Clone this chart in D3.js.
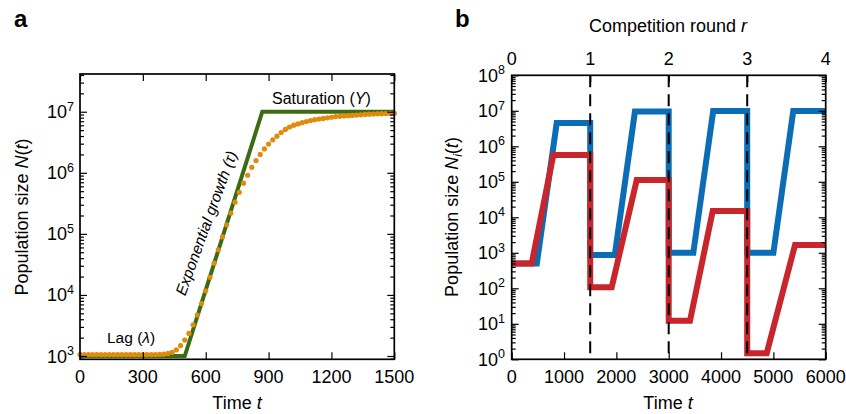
<!DOCTYPE html>
<html><head><meta charset="utf-8">
<script src="https://cdn.jsdelivr.net/npm/d3@7"></script>
<style>
body{margin:0;background:#fff}
svg{display:block}
text{font-family:"Liberation Sans",Arial,Helvetica,sans-serif;fill:#000}
</style>
</head><body>
<svg id="c" width="846" height="414"></svg>
<script>
// ---------- Panel a data ----------
const growthT = [0,20,40,60,80,100,120,140,160,180,200,220,240,260,280,300,320,340,360,
  380,400,420,440,460,480,500,520,540,560,580,600,620,640,660,680,700,720,740,760,780,800,
  820,840,860,880,900,920,940,960,980,1000,1020,1040,1060,1080,1100,1120,1140,1160,1180,1200,
  1220,1240,1260,1280,1300,1320,1340,1360,1380,1400,1420,1440,1460,1480,1500];
const growthN = [1.05e3,1.05e3,1.05e3,1.05e3,1.05e3,1.05e3,1.05e3,1.05e3,1.05e3,1.05e3,1.05e3,
  1.05e3,1.05e3,1.05e3,1.05e3,1.05e3,1.05e3,1.05e3,1.05e3,
  1.06e3,1.07e3,1.10e3,1.15e3,1.26e3,1.48e3,1.82e3,2.34e3,3.24e3,4.68e3,7.24e3,1.17e4,
  1.95e4,3.31e4,5.50e4,8.91e4,1.41e5,2.19e5,3.31e5,4.79e5,6.76e5,9.12e5,
  1.23e6,1.59e6,2.00e6,2.46e6,2.95e6,3.47e6,3.98e6,4.57e6,5.13e6,5.62e6,
  6.03e6,6.31e6,6.61e6,6.92e6,7.16e6,7.41e6,7.59e6,7.76e6,7.94e6,8.13e6,
  8.32e6,8.41e6,8.51e6,8.61e6,8.71e6,8.81e6,8.91e6,9.02e6,9.12e6,9.16e6,
  9.23e6,9.29e6,9.33e6,9.38e6,9.44e6];
const modelT = [0,500,870,1500];
const modelN = [1e3,1e3,1e7,1e7];
const xTicksA = [0,300,600,900,1200,1500];
const yExpA = [3,4,5,6,7];

// ---------- Panel b data ----------
const blueT = [0,480,860,1500,1500,1970,2355,3000,3000,3470,3850,4500,4500,5000,5380,6000];
const blueN = [500,500,4.5e6,4.5e6,870,870,9.5e6,9.5e6,1e3,1e3,9.8e6,9.8e6,1e3,1e3,9.8e6,9.8e6];
const redT = [0,382,796,1500,1500,1911,2389,3000,3000,3407,3841,4500,4500,4873,5414,6000];
const redN = [500,500,5.7e5,5.7e5,107,107,1.12e5,1.12e5,12.2,12.2,1.5e4,1.5e4,1.48,1.48,1.66e3,1.66e3];
const xTicksB = [0,1000,2000,3000,4000,5000,6000];
const roundTicks = [0,1,2,3,4];
const transferRounds = [1,2,3];
const yExpB = [0,1,2,3,4,5,6,7,8];

const svg = d3.select("#c");
const FS = 18;

function minorTicks(domain){
  const out=[];
  const lo=Math.floor(Math.log10(domain[0])), hi=Math.ceil(Math.log10(domain[1]));
  for(let e=lo;e<=hi;e++){for(let m=2;m<=9;m++){const v=m*Math.pow(10,e); if(v>=domain[0]&&v<=domain[1]) out.push(v);}}
  return out;
}

function frameAxes(g, x, y, xTicks, yMajors, yDomain, topScale, topTicks){
  const [x0,x1]=x.range(), [y0,y1]=y.range();
  const tk = sel=>sel.call(s=>s.select(".domain").remove()).selectAll("line").attr("stroke","#000").attr("stroke-width",1.2);
  g.append("g").attr("transform",`translate(0,${y0})`).call(d3.axisBottom(x).tickValues(xTicks).tickSize(-7).tickFormat("")).call(tk);
  g.append("g").attr("transform",`translate(0,${y1})`).call(d3.axisTop(topScale||x).tickValues(topTicks||xTicks).tickSize(-7).tickFormat("")).call(tk);
  const mins = minorTicks(yDomain);
  g.append("g").attr("transform",`translate(${x0},0)`).call(d3.axisLeft(y).tickValues(yMajors).tickSize(-7).tickFormat("")).call(tk);
  g.append("g").attr("transform",`translate(${x0},0)`).call(d3.axisLeft(y).tickValues(mins).tickSize(-4).tickFormat("")).call(tk);
  g.append("g").attr("transform",`translate(${x1},0)`).call(d3.axisRight(y).tickValues(yMajors).tickSize(-7).tickFormat("")).call(tk);
  g.append("g").attr("transform",`translate(${x1},0)`).call(d3.axisRight(y).tickValues(mins).tickSize(-4).tickFormat("")).call(tk);
  g.append("rect").attr("x",x0).attr("y",y1).attr("width",x1-x0).attr("height",y0-y1)
    .attr("fill","none").attr("stroke","#000").attr("stroke-width",1.7);
}

function yLabels(g, y, exps, xr){
  exps.forEach(e=>{
    const t=g.append("text").attr("x",xr).attr("y",y(Math.pow(10,e))+6.5).attr("text-anchor","end").attr("font-size",FS);
    t.append("tspan").text("10");
    t.append("tspan").attr("dy",-7.5).attr("font-size",12.5).text(e);
  });
}

// ---------- Panel a ----------
const xA = d3.scaleLinear([0,1500],[80,394.3]);
const yDomA = [Math.pow(10,2.946),Math.pow(10,7.618)];
const yA = d3.scaleLog(yDomA,[359.3,74]);
const gA = svg.append("g");

gA.append("path").datum(modelT.map((t,i)=>[t,modelN[i]]))
  .attr("d",d3.line().x(d=>xA(d[0])).y(d=>yA(d[1])))
  .attr("fill","none").attr("stroke","#3c6c12").attr("stroke-width",4);
gA.selectAll("circle.g").data(growthT.map((t,i)=>[t,growthN[i]])).join("circle")
  .attr("cx",d=>xA(d[0])).attr("cy",d=>yA(d[1])).attr("r",2.6).attr("fill","#e08b0c");

frameAxes(gA,xA,yA,xTicksA,yExpA.map(e=>Math.pow(10,e)),yDomA);
xTicksA.forEach(v=>gA.append("text").attr("x",xA(v)).attr("y",383).attr("text-anchor","middle").attr("font-size",FS).text(v));
yLabels(gA,yA,yExpA,74);

gA.append("text").attr("x",237).attr("y",409).attr("text-anchor","middle").attr("font-size",FS)
  .call(t=>{t.append("tspan").text("Time ");t.append("tspan").attr("font-style","italic").text("t");});
gA.append("text").attr("transform","translate(28,217) rotate(-90)").attr("text-anchor","middle").attr("font-size",FS)
  .call(t=>{t.append("tspan").text("Population size ");t.append("tspan").attr("font-style","italic").text("N");
    t.append("tspan").text("(");t.append("tspan").attr("font-style","italic").text("t");t.append("tspan").text(")");});
gA.append("text").attr("x",14).attr("y",27).attr("font-size",24).attr("font-weight","bold").text("a");

gA.append("text").attr("x",107).attr("y",343).attr("font-size",15.5)
  .call(t=>{t.append("tspan").text("Lag (");t.append("tspan").attr("font-style","italic").text("λ");t.append("tspan").text(")");});
gA.append("text").attr("x",272).attr("y",104).attr("font-size",16)
  .call(t=>{t.append("tspan").text("Saturation (");t.append("tspan").attr("font-style","italic").text("Y");t.append("tspan").text(")");});
gA.append("text").attr("transform","translate(206,223) rotate(-70)").attr("text-anchor","middle")
  .attr("dominant-baseline","central").attr("font-size",15.5).attr("font-style","italic")
  .text("Exponential growth (τ)");

// ---------- Panel b ----------
const xB = d3.scaleLinear([0,6000],[511.7,825.7]);
const rB = d3.scaleLinear([0,4],[511.7,825.7]);
const yDomB = [1,1e8];
const yB = d3.scaleLog(yDomB,[359.3,75.3]);
const gB = svg.append("g");
const lineB = d3.line().x(d=>xB(d[0])).y(d=>yB(d[1]));

gB.append("path").datum(blueT.map((t,i)=>[t,blueN[i]])).attr("d",lineB)
  .attr("fill","none").attr("stroke","#0b6db5").attr("stroke-width",6);
gB.append("path").datum(redT.map((t,i)=>[t,redN[i]])).attr("d",lineB)
  .attr("fill","none").attr("stroke","#c9262b").attr("stroke-width",6);
transferRounds.forEach(r=>gB.append("line").attr("x1",rB(r)).attr("x2",rB(r)).attr("y1",75.3).attr("y2",359.3)
  .attr("stroke","#000").attr("stroke-width",2).attr("stroke-dasharray","12,7"));

frameAxes(gB,xB,yB,xTicksB,yExpB.map(e=>Math.pow(10,e)),yDomB,rB,roundTicks);
xTicksB.forEach(v=>gB.append("text").attr("x",xB(v)).attr("y",383).attr("text-anchor","middle").attr("font-size",FS).text(v));
roundTicks.forEach(v=>gB.append("text").attr("x",rB(v)).attr("y",65).attr("text-anchor","middle").attr("font-size",FS).text(v));
yLabels(gB,yB,yExpB,505);

gB.append("text").attr("x",668).attr("y",409).attr("text-anchor","middle").attr("font-size",FS)
  .call(t=>{t.append("tspan").text("Time ");t.append("tspan").attr("font-style","italic").text("t");});
gB.append("text").attr("x",668).attr("y",32).attr("text-anchor","middle").attr("font-size",FS)
  .call(t=>{t.append("tspan").text("Competition round ");t.append("tspan").attr("font-style","italic").text("r");});
gB.append("text").attr("transform","translate(458,217) rotate(-90)").attr("text-anchor","middle").attr("font-size",FS)
  .call(t=>{t.append("tspan").text("Population size ");t.append("tspan").attr("font-style","italic").text("N");
    t.append("tspan").attr("font-style","italic").attr("font-size",12).attr("dy",4).text("i");
    t.append("tspan").attr("dy",-4).text("(");t.append("tspan").attr("font-style","italic").text("t");t.append("tspan").text(")");});
gB.append("text").attr("x",455).attr("y",27).attr("font-size",24).attr("font-weight","bold").text("b");
</script>
</body></html>
